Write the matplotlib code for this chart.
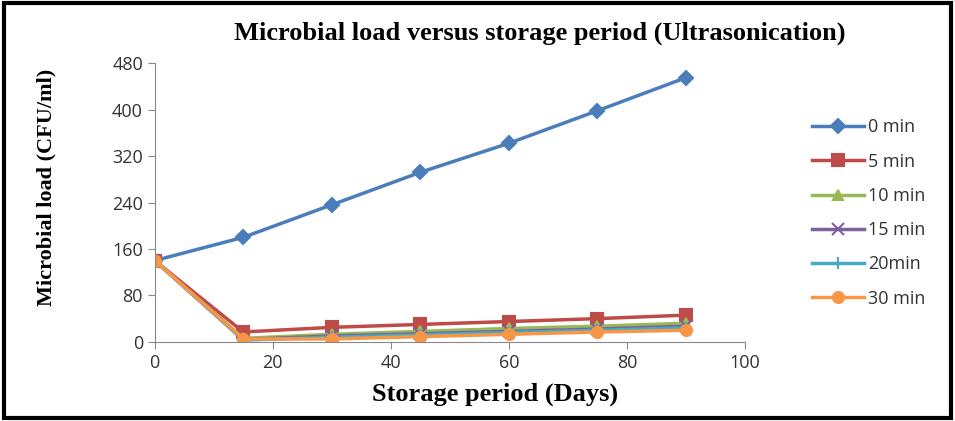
import matplotlib.pyplot as plt
from matplotlib.patches import Rectangle

# storage period (days) and microbial load (CFU/ml) per sonication time
days = [0, 15, 30, 45, 60, 75, 90]
series_names = ["0 min", "5 min", "10 min", "15 min", "20min", "30 min"]
load_0 = [140, 180, 236, 292, 342, 398, 455]
load_5 = [140, 17, 25, 30, 35, 40, 46]
load_10 = [140, 6, 13, 18, 23, 27, 32]
load_15 = [140, 4, 10, 14, 18, 22, 27]
load_20 = [140, 3, 8, 12, 16, 20, 24]
load_30 = [140, 5, 5, 9, 13, 17, 20]

colors = ["#4A7EBB", "#BE4B48", "#98B954", "#7D60A0", "#46AAC5", "#F79646"]
markers = ["D", "s", "^", "x", "+", "o"]
msizes = [7, 9, 7, 8, 9, 8]

fig = plt.figure(figsize=(9.55, 4.21), dpi=100)
ax = fig.add_axes([0.162, 0.188, 0.618, 0.662])

all_loads = [load_0, load_5, load_10, load_15, load_20, load_30]
for name, vals, c, m, s in zip(series_names, all_loads, colors, markers, msizes):
    ax.plot(days, vals, color=c, marker=m, markersize=s, linewidth=2.5,
            markeredgewidth=1.5, label=name)

ax.set_xlim(0, 100)
ax.set_ylim(0, 480)
ax.set_xticks(range(0, 101, 20))
ax.set_yticks(range(0, 481, 80))
for side in ["top", "right"]:
    ax.spines[side].set_visible(False)
for side in ["left", "bottom"]:
    ax.spines[side].set_color("#888888")
ax.tick_params(colors="#888888", labelcolor="#333333", labelsize=13,
               direction="out", length=5)
for lab in ax.get_xticklabels() + ax.get_yticklabels():
    lab.set_fontfamily("Open Sans")

ax.set_title("Microbial load versus storage period (Ultrasonication)",
             fontfamily="Liberation Serif", fontweight="bold", fontsize=19,
             pad=17, x=0.653)
ax.set_xlabel("Storage period (Days)", fontfamily="Liberation Serif",
              fontweight="bold", fontsize=19)
ax.xaxis.set_label_coords(0.576, -0.145)
ax.set_ylabel("Microbial load (CFU/ml)", fontfamily="Liberation Serif",
              fontweight="bold", fontsize=16)
ax.yaxis.set_label_coords(-0.166, 0.556)

leg = fig.legend(loc="center left", bbox_to_anchor=(0.833, 0.494), frameon=False,
                 prop={"family": "Open Sans", "size": 13}, labelspacing=0.9,
                 handlelength=2.9, handletextpad=0.2)
for t in leg.get_texts():
    t.set_color("#333333")

# black outer frame
fig.patches.append(Rectangle((0.004, 0.006), 0.992, 0.988, transform=fig.transFigure,
                             fill=False, edgecolor="black", linewidth=3))

fig.savefig("out.png", dpi=100)
